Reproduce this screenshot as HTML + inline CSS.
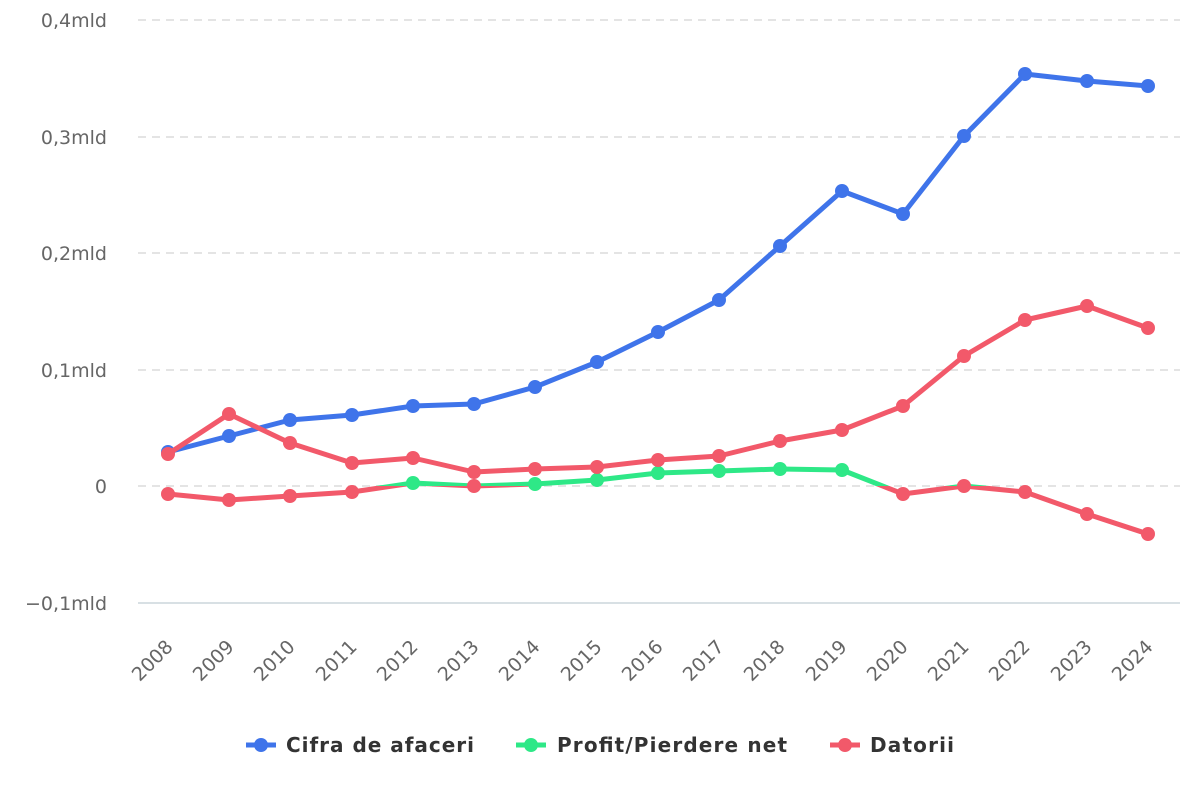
<!DOCTYPE html>
<html><head><meta charset="utf-8"><style>
body{margin:0;background:#fff;}
svg text{font-family:"DejaVu Sans",sans-serif;}
</style></head><body>
<svg width="1200" height="800" xmlns="http://www.w3.org/2000/svg">
<defs>
<clipPath id="above"><rect x="0" y="0" width="1200" height="486"/></clipPath>
<clipPath id="below"><rect x="0" y="486" width="1200" height="314"/></clipPath>
</defs>
<g stroke="#dcdcdc" stroke-width="1.5" stroke-dasharray="8,6">
<line x1="138" y1="20" x2="1180" y2="20"/>
<line x1="138" y1="137" x2="1180" y2="137"/>
<line x1="138" y1="253" x2="1180" y2="253"/>
<line x1="138" y1="370" x2="1180" y2="370"/>
<line x1="138" y1="486" x2="1180" y2="486"/>
</g>
<line x1="138" y1="603" x2="1180" y2="603" stroke="#ccd6dc" stroke-width="1.5"/>
<g font-size="19" fill="#666" text-anchor="end">
<text x="107" y="27">0,4mld</text>
<text x="107" y="144">0,3mld</text>
<text x="107" y="260">0,2mld</text>
<text x="107" y="377">0,1mld</text>
<text x="107" y="493">0</text>
<text x="107" y="610">−0,1mld</text>
</g>
<g font-size="19" fill="#666" text-anchor="end">
<text transform="translate(174,648) rotate(-45)">2008</text>
<text transform="translate(235,648) rotate(-45)">2009</text>
<text transform="translate(296,648) rotate(-45)">2010</text>
<text transform="translate(358,648) rotate(-45)">2011</text>
<text transform="translate(419,648) rotate(-45)">2012</text>
<text transform="translate(480,648) rotate(-45)">2013</text>
<text transform="translate(541,648) rotate(-45)">2014</text>
<text transform="translate(603,648) rotate(-45)">2015</text>
<text transform="translate(664,648) rotate(-45)">2016</text>
<text transform="translate(725,648) rotate(-45)">2017</text>
<text transform="translate(786,648) rotate(-45)">2018</text>
<text transform="translate(848,648) rotate(-45)">2019</text>
<text transform="translate(909,648) rotate(-45)">2020</text>
<text transform="translate(970,648) rotate(-45)">2021</text>
<text transform="translate(1031,648) rotate(-45)">2022</text>
<text transform="translate(1093,648) rotate(-45)">2023</text>
<text transform="translate(1154,648) rotate(-45)">2024</text>
</g>
<!-- Blue -->
<polyline fill="none" stroke="#3f74ea" stroke-width="5" stroke-linejoin="round" points="168,452 229,436 290,420 352,415 413,406 474,404 535,387 597,362 658,332 719,300 780,246 842,191 903,214 964,136 1025,74 1087,81 1148,86"/>
<g fill="#3f74ea">
<circle cx="168" cy="452" r="7"/><circle cx="229" cy="436" r="7"/><circle cx="290" cy="420" r="7"/><circle cx="352" cy="415" r="7"/><circle cx="413" cy="406" r="7"/><circle cx="474" cy="404" r="7"/><circle cx="535" cy="387" r="7"/><circle cx="597" cy="362" r="7"/><circle cx="658" cy="332" r="7"/><circle cx="719" cy="300" r="7"/><circle cx="780" cy="246" r="7"/><circle cx="842" cy="191" r="7"/><circle cx="903" cy="214" r="7"/><circle cx="964" cy="136" r="7"/><circle cx="1025" cy="74" r="7"/><circle cx="1087" cy="81" r="7"/><circle cx="1148" cy="86" r="7"/>
</g>
<!-- Profit -->
<g fill="none" stroke-width="5" stroke-linejoin="round">
<polyline clip-path="url(#above)" stroke="#2ee887" points="168,494 229,500 290,496 352,492 413,483 474,486 535,484 597,480 658,473 719,471 780,469 842,470 903,494 964,486 1025,492 1087,514 1148,534"/>
<polyline clip-path="url(#below)" stroke="#f2596a" points="168,494 229,500 290,496 352,492 413,483 474,486 535,484 597,480 658,473 719,471 780,469 842,470 903,494 964,486 1025,492 1087,514 1148,534"/>
</g>
<g fill="#f2596a">
<circle cx="168" cy="494" r="7"/><circle cx="229" cy="500" r="7"/><circle cx="290" cy="496" r="7"/><circle cx="352" cy="492" r="7"/><circle cx="474" cy="486" r="7"/><circle cx="903" cy="494" r="7"/><circle cx="964" cy="486" r="7"/><circle cx="1025" cy="492" r="7"/><circle cx="1087" cy="514" r="7"/><circle cx="1148" cy="534" r="7"/>
</g>
<g fill="#2ee887">
<circle cx="413" cy="483" r="7"/><circle cx="535" cy="484" r="7"/><circle cx="597" cy="480" r="7"/><circle cx="658" cy="473" r="7"/><circle cx="719" cy="471" r="7"/><circle cx="780" cy="469" r="7"/><circle cx="842" cy="470" r="7"/>
</g>
<!-- Datorii -->
<polyline fill="none" stroke="#f2596a" stroke-width="5" stroke-linejoin="round" points="168,454 229,414 290,443 352,463 413,458 474,472 535,469 597,467 658,460 719,456 780,441 842,430 903,406 964,356 1025,320 1087,306 1148,328"/>
<g fill="#f2596a">
<circle cx="168" cy="454" r="7"/><circle cx="229" cy="414" r="7"/><circle cx="290" cy="443" r="7"/><circle cx="352" cy="463" r="7"/><circle cx="413" cy="458" r="7"/><circle cx="474" cy="472" r="7"/><circle cx="535" cy="469" r="7"/><circle cx="597" cy="467" r="7"/><circle cx="658" cy="460" r="7"/><circle cx="719" cy="456" r="7"/><circle cx="780" cy="441" r="7"/><circle cx="842" cy="430" r="7"/><circle cx="903" cy="406" r="7"/><circle cx="964" cy="356" r="7"/><circle cx="1025" cy="320" r="7"/><circle cx="1087" cy="306" r="7"/><circle cx="1148" cy="328" r="7"/>
</g>
<!-- Legend -->
<g font-size="20" font-weight="bold" fill="#333">
<line x1="246" y1="745" x2="276" y2="745" stroke="#3f74ea" stroke-width="5"/><circle cx="261" cy="745" r="7" fill="#3f74ea"/>
<text x="286" y="752" textLength="188" lengthAdjust="spacing">Cifra de afaceri</text>
<line x1="516" y1="745" x2="546" y2="745" stroke="#2ee887" stroke-width="5"/><circle cx="531" cy="745" r="7" fill="#2ee887"/>
<text x="557" y="752" textLength="230" lengthAdjust="spacing">Profit/Pierdere net</text>
<line x1="830" y1="745" x2="860" y2="745" stroke="#f2596a" stroke-width="5"/><circle cx="845" cy="745" r="7" fill="#f2596a"/>
<text x="870" y="752" textLength="84" lengthAdjust="spacing">Datorii</text>
</g>
</svg>
</body></html>
